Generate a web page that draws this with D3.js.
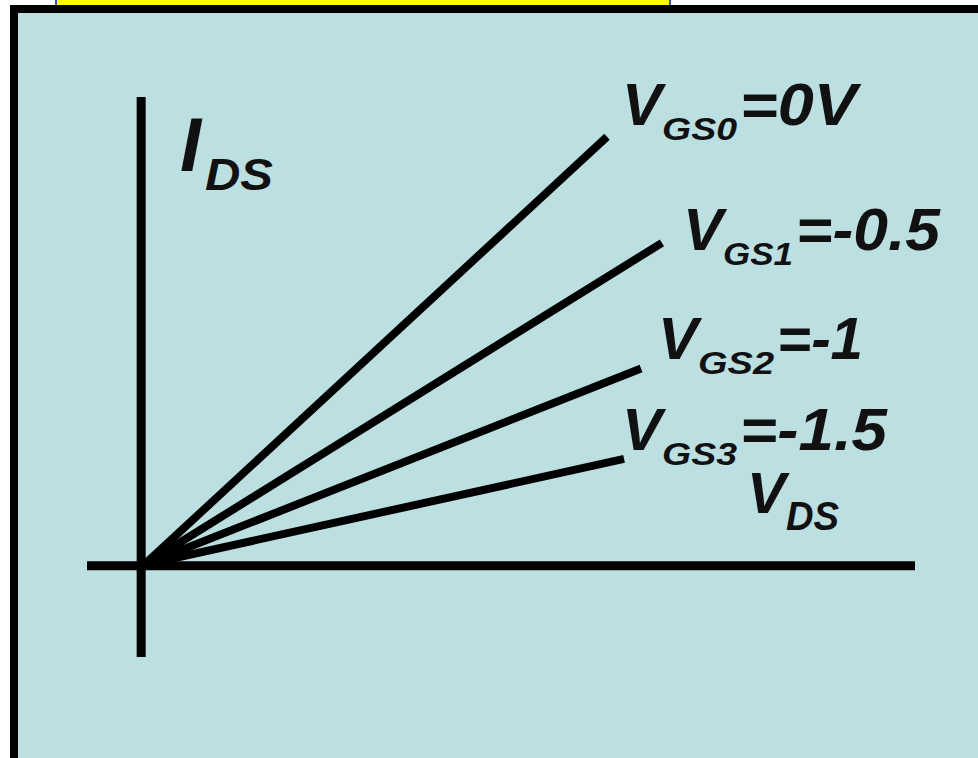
<!DOCTYPE html>
<html>
<head>
<meta charset="utf-8">
<script src="https://cdn.jsdelivr.net/npm/d3@7"></script>
<style>
  body { margin: 0; background: #fff; }
  svg { display: block; }
  text { font-family: "Liberation Sans", Arial, sans-serif; font-weight: bold; font-style: italic; fill: #111; }
</style>
</head>
<body>
<script>
    const width = 978;
    const height = 758;

    // curves: V_GS value and where each straight line ends (V_DS, I_DS)
    const subs = ["GS0", "GS1", "GS2", "GS3"];
    const vgs = ["=0V", "=-0.5", "=-1", "=-1.5"];
    const vdsEnd = [6.02, 6.73, 6.46, 6.24];
    const idsEnd = [5.5, 4.14, 2.53, 1.37];

    // axis extents in data units
    const xDomain = [-0.7, 10];
    const yDomain = [-1.17, 6.01];

    // label placement (pixels from the line end)
    const labelOff = [[15, -12], [21, 7], [17, -9], [-2, -9]];
    const subLen = [75, 70, 76, 75];
    const valLen = [117, 144, 86, 147];

    const x = d3.scaleLinear().domain(xDomain).range([87, 915]);
    const y = d3.scaleLinear().domain(yDomain).range([657, 97]);

    const svg = d3.select("body")
        .append("svg")
        .attr("width", width)
        .attr("height", height);

    // yellow title box cut off at the top
    svg.append("rect")
        .attr("x", 56).attr("y", -10)
        .attr("width", 614).attr("height", 16)
        .attr("fill", "#ffff00")
        .attr("stroke", "#3a5aa8")
        .attr("stroke-width", 2);

    // frame
    svg.append("rect")
        .attr("x", 14).attr("y", 9)
        .attr("width", width + 20).attr("height", height + 20)
        .attr("fill", "#bcdfe2")
        .attr("stroke", "#000")
        .attr("stroke-width", 8);

    // axes
    svg.append("line")
        .attr("x1", x(0)).attr("x2", x(0))
        .attr("y1", y(yDomain[0])).attr("y2", y(yDomain[1]))
        .attr("stroke", "#000").attr("stroke-width", 9);
    svg.append("line")
        .attr("x1", x(xDomain[0])).attr("x2", x(xDomain[1]))
        .attr("y1", y(0)).attr("y2", y(0))
        .attr("stroke", "#000").attr("stroke-width", 9);

    const idx = d3.range(vgs.length);

    svg.append("g")
        .attr("stroke", "#000")
        .attr("stroke-width", 8)
        .selectAll("line")
        .data(idx)
        .join("line")
        .attr("x1", x(0) + 3).attr("y1", y(0) - 1)
        .attr("x2", i => x(vdsEnd[i]))
        .attr("y2", i => y(idsEnd[i]));

    // labels
    const lab = svg.append("g")
        .selectAll("text")
        .data(idx)
        .join("text");
    lab.each(function (i) {
        const t = d3.select(this);
        const bx = x(vdsEnd[i]) + labelOff[i][0];
        const by = y(idsEnd[i]) + labelOff[i][1];
        t.append("tspan").attr("x", bx).attr("y", by)
            .attr("font-size", 60).text("V");
        t.append("tspan").attr("x", bx + 40).attr("y", by + 15)
            .attr("font-size", 31)
            .attr("textLength", subLen[i]).attr("lengthAdjust", "spacingAndGlyphs")
            .text(subs[i]);
        t.append("tspan").attr("x", bx + 40 + subLen[i] + 3).attr("y", by)
            .attr("font-size", 60)
            .attr("textLength", valLen[i]).attr("lengthAdjust", "spacingAndGlyphs")
            .text(vgs[i]);
    });

    // axis titles
    const vds = svg.append("text");
    vds.append("tspan").attr("x", 747).attr("y", 513).attr("font-size", 58).text("V");
    vds.append("tspan").attr("x", 786).attr("y", 530).attr("font-size", 41)
        .attr("textLength", 53).attr("lengthAdjust", "spacingAndGlyphs").text("DS");

    const ids = svg.append("text");
    ids.append("tspan").attr("x", 180).attr("y", 171).attr("font-size", 76).text("I");
    ids.append("tspan").attr("x", 205).attr("y", 190).attr("font-size", 45)
        .attr("textLength", 68).attr("lengthAdjust", "spacingAndGlyphs").text("DS");
</script>
</body>
</html>
